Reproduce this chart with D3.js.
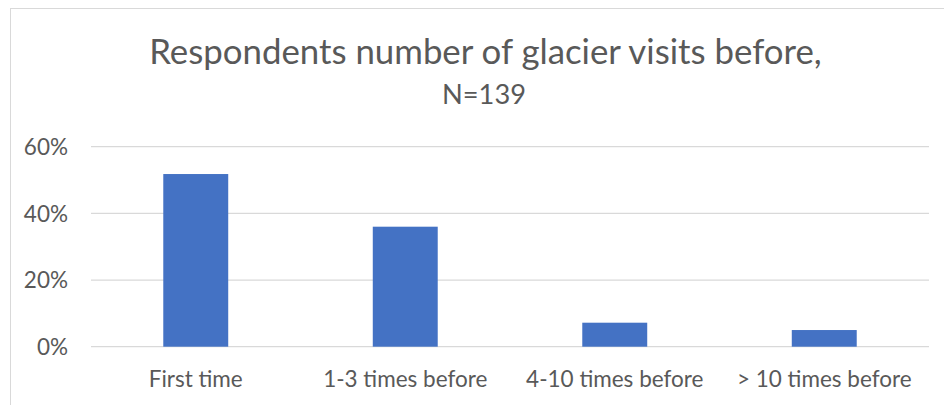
<!DOCTYPE html>
<html>
<head>
<meta charset="utf-8">
<script src="https://cdn.jsdelivr.net/npm/d3@7"></script>
<style>
  html, body { margin: 0; padding: 0; background: #fff; }
  svg { display: block; }
  text { font-family: Lato, "Open Sans", sans-serif; fill: #595959; }
</style>
</head>
<body>
<svg id="chart" width="944" height="405"></svg>
<script>
const categories = ["First time", "1-3 times before", "4-10 times before", "> 10 times before"];
const values = [0.518, 0.360, 0.072, 0.050];
const yTicks = [0, 0.2, 0.4, 0.6];
const titleLine1 = "Respondents number of glacier visits before,";
const titleLine2 = "N=139";

const svg = d3.select("#chart");
const W = 944, H = 405;
const plot = { left: 91, right: 929, top: 146.7, bottom: 346.7 };
const labelSize = 22.5;

// chart border
svg.append("rect")
  .attr("x", 10.5).attr("y", 8.5)
  .attr("width", W + 20).attr("height", H + 20)
  .attr("fill", "none").attr("stroke", "#d9d9d9").attr("stroke-width", 1);

const x = d3.scaleBand()
  .domain(categories)
  .range([plot.left, plot.right])
  .paddingInner(0.69)
  .paddingOuter(0.345);

const y = d3.scaleLinear().domain([0, 0.6]).range([plot.bottom, plot.top]);

// gridlines
svg.append("g")
  .selectAll("line")
  .data(yTicks)
  .join("line")
  .attr("x1", plot.left).attr("x2", plot.right)
  .attr("y1", d => y(d)).attr("y2", d => y(d))
  .attr("stroke", "#d9d9d9").attr("stroke-width", 1.3);

// y axis
const yAxis = d3.axisLeft(y).tickValues(yTicks).tickFormat(d3.format(".0%")).tickSize(0).tickPadding(0);
const gy = svg.append("g").attr("transform", `translate(68,0)`).call(yAxis);
gy.select(".domain").remove();
gy.selectAll("text").attr("font-size", labelSize).attr("fill", "#595959")
  .attr("font-family", "Lato, 'Open Sans', sans-serif").attr("dy", "0.35em");

// bars
svg.append("g")
  .selectAll("rect")
  .data(values)
  .join("rect")
  .attr("x", (d, i) => x(categories[i]))
  .attr("width", x.bandwidth())
  .attr("y", d => y(d))
  .attr("height", d => y(0) - y(d))
  .attr("fill", "#4472c4");

// x axis
const xAxis = d3.axisBottom(x).tickSize(0).tickPadding(0);
const gx = svg.append("g").attr("transform", `translate(0,${plot.bottom})`).call(xAxis);
gx.select(".domain").remove();
gx.selectAll("text").attr("font-size", labelSize).attr("fill", "#595959")
  .attr("font-family", "Lato, 'Open Sans', sans-serif")
  .attr("dy", null).attr("y", 40);

// title
function fit(sel, targetWidth, size) {
  sel.attr("font-size", size);
  const w = sel.node().getComputedTextLength();
  sel.attr("font-size", size * targetWidth / w);
}
const t1 = svg.append("text").attr("x", 485.5).attr("y", 64).attr("text-anchor", "middle").text(titleLine1);
fit(t1, 673, 30);
const t2 = svg.append("text").attr("x", 484).attr("y", 104).attr("text-anchor", "middle").text(titleLine2);
fit(t2, 84, 24);
</script>
</body>
</html>
